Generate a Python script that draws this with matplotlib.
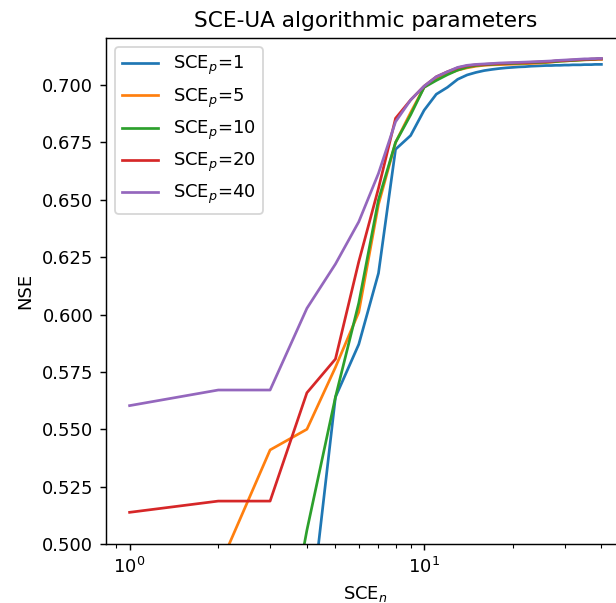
import numpy as np
import matplotlib
matplotlib.use("Agg")
import matplotlib.pyplot as plt

# SCE_n values (x axis)
n_vals = list(range(1, 41))

# NSE for each SCE_p setting
nse_p1 = [0.380, 0.410, 0.430, 0.456, 0.564, 0.587, 0.618, 0.672, 0.678, 0.689,
          0.696, 0.699, 0.7025, 0.7044, 0.7055, 0.7063, 0.7068, 0.7072, 0.7075, 0.7077,
          0.7079, 0.7080, 0.7082, 0.7083, 0.7084, 0.7085, 0.7085, 0.7086, 0.7086, 0.7087,
          0.7087, 0.7088, 0.7088, 0.7088, 0.7089, 0.7089, 0.7089, 0.7090, 0.7090, 0.7090]
nse_p5 = [0.440, 0.489, 0.541, 0.550, 0.577, 0.601, 0.648, 0.675, 0.688, 0.699,
          0.703, 0.705, 0.7065, 0.7075, 0.7082, 0.7086, 0.7088, 0.7089, 0.7090, 0.7091,
          0.7092, 0.7093, 0.7094, 0.7095, 0.7096, 0.7098, 0.7100, 0.7102, 0.7104, 0.7105,
          0.7106, 0.7107, 0.7108, 0.7109, 0.7110, 0.7110, 0.7111, 0.7111, 0.7112, 0.7112]
nse_p10 = [0.380, 0.400, 0.420, 0.506, 0.564, 0.605, 0.650, 0.675, 0.687, 0.699,
           0.702, 0.7045, 0.7065, 0.7078, 0.7085, 0.7088, 0.7090, 0.7092, 0.7093, 0.7094,
           0.7095, 0.7096, 0.7097, 0.7098, 0.7099, 0.7100, 0.7101, 0.7102, 0.7104, 0.7105,
           0.7106, 0.7107, 0.7108, 0.7109, 0.7110, 0.7111, 0.7112, 0.7113, 0.7114, 0.7114]
nse_p20 = [0.5138, 0.5187, 0.5187, 0.5659, 0.5806, 0.623, 0.655, 0.6855, 0.6935, 0.6995,
           0.7036, 0.7058, 0.7075, 0.7084, 0.7088, 0.7090, 0.7092, 0.7094, 0.7095, 0.7096,
           0.7097, 0.7098, 0.7099, 0.7100, 0.7101, 0.7102, 0.7103, 0.7105, 0.7106, 0.7107,
           0.7108, 0.7109, 0.7110, 0.7111, 0.7112, 0.7112, 0.7113, 0.7113, 0.7114, 0.7114]
nse_p40 = [0.5603, 0.5671, 0.5671, 0.6027, 0.622, 0.6404, 0.6615, 0.684, 0.6935, 0.6995,
           0.7036, 0.7058, 0.7077, 0.7086, 0.7090, 0.7092, 0.7094, 0.7096, 0.7097, 0.7098,
           0.7099, 0.7100, 0.7101, 0.7102, 0.7103, 0.7104, 0.7105, 0.7107, 0.7108, 0.7109,
           0.7110, 0.7111, 0.7112, 0.7113, 0.7114, 0.7114, 0.7115, 0.7115, 0.7116, 0.7116]

p_vals = [1, 5, 10, 20, 40]
series = [nse_p1, nse_p5, nse_p10, nse_p20, nse_p40]

dpi = 130
fig = plt.figure(figsize=(616 / dpi, 603 / dpi), dpi=dpi)
ax = fig.add_axes([106 / 616, 59 / 603, 519 / 616, 506 / 603])

for p, y in zip(p_vals, series):
    ax.plot(n_vals, y, label='SCE$_p$=%d' % p)

ax.set_xscale('log')
ax.set_ylim(0.5, 0.7205)
ax.set_title('SCE-UA algorithmic parameters')
ax.set_xlabel('SCE$_n$')
ax.set_ylabel('NSE')
ax.legend(loc='upper left')

fig.savefig('out.png', dpi=dpi)
